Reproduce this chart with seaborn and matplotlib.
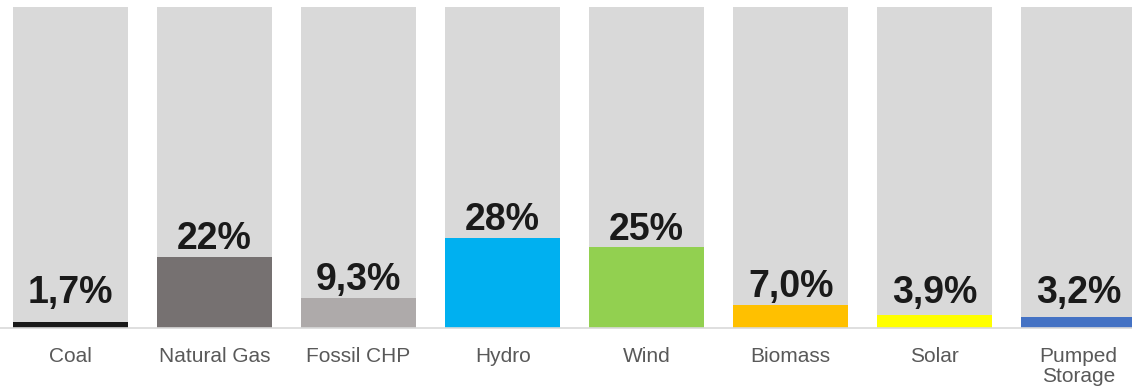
import matplotlib
matplotlib.use("Agg")
import matplotlib.pyplot as plt
import seaborn as sns
import pandas as pd

categories = ["Coal", "Natural Gas", "Fossil CHP", "Hydro", "Wind", "Biomass", "Solar", "Pumped\nStorage"]
shares = [1.7, 22, 9.3, 28, 25, 7.0, 3.9, 3.2]
share_labels = ["1,7%", "22%", "9,3%", "28%", "25%", "7,0%", "3,9%", "3,2%"]
bar_colors = ["#1a1a1a", "#767171", "#aeaaaa", "#00b0f0", "#92d050", "#ffc000", "#ffff00", "#4472c4"]
full_scale = [100] * len(categories)

sns.set_theme(style="white")
plt.rcParams["font.family"] = ["Liberation Sans", "DejaVu Sans"]

df = pd.DataFrame({"cat": categories, "share": shares, "full": full_scale})

fig = plt.figure(figsize=(11.32, 3.88), dpi=100)
ax = fig.add_axes([0.0, 60.5 / 388, 1.0, 320.5 / 388])

sns.barplot(data=df, x="cat", y="full", color="#d9d9d9", width=0.8,
            linewidth=0, saturation=1, ax=ax)
sns.barplot(data=df, x="cat", y="share", hue="cat", palette=bar_colors,
            width=0.8, dodge=False, legend=False, linewidth=0, saturation=1, ax=ax)

for i, (v, lab) in enumerate(zip(shares, share_labels)):
    ax.text(i, max(v, 5.2) + 2.4, lab, ha="center", va="baseline",
            fontsize=27, fontweight="bold", color="#1a1a1a")

ax.set_xlim(-0.49, 7.37)
ax.set_ylim(0, 100)
ax.set_xlabel("")
ax.set_ylabel("")
ax.set_yticks([])
for s in ["top", "left", "right"]:
    ax.spines[s].set_visible(False)
ax.spines["bottom"].set_color("#d9d9d9")
ax.spines["bottom"].set_linewidth(1.2)
ax.tick_params(axis="x", length=0, pad=14, labelsize=15, labelcolor="#595959")
for t in ax.get_xticklabels():
    t.set_linespacing(1.1)

fig.savefig("out.png", dpi=100)
